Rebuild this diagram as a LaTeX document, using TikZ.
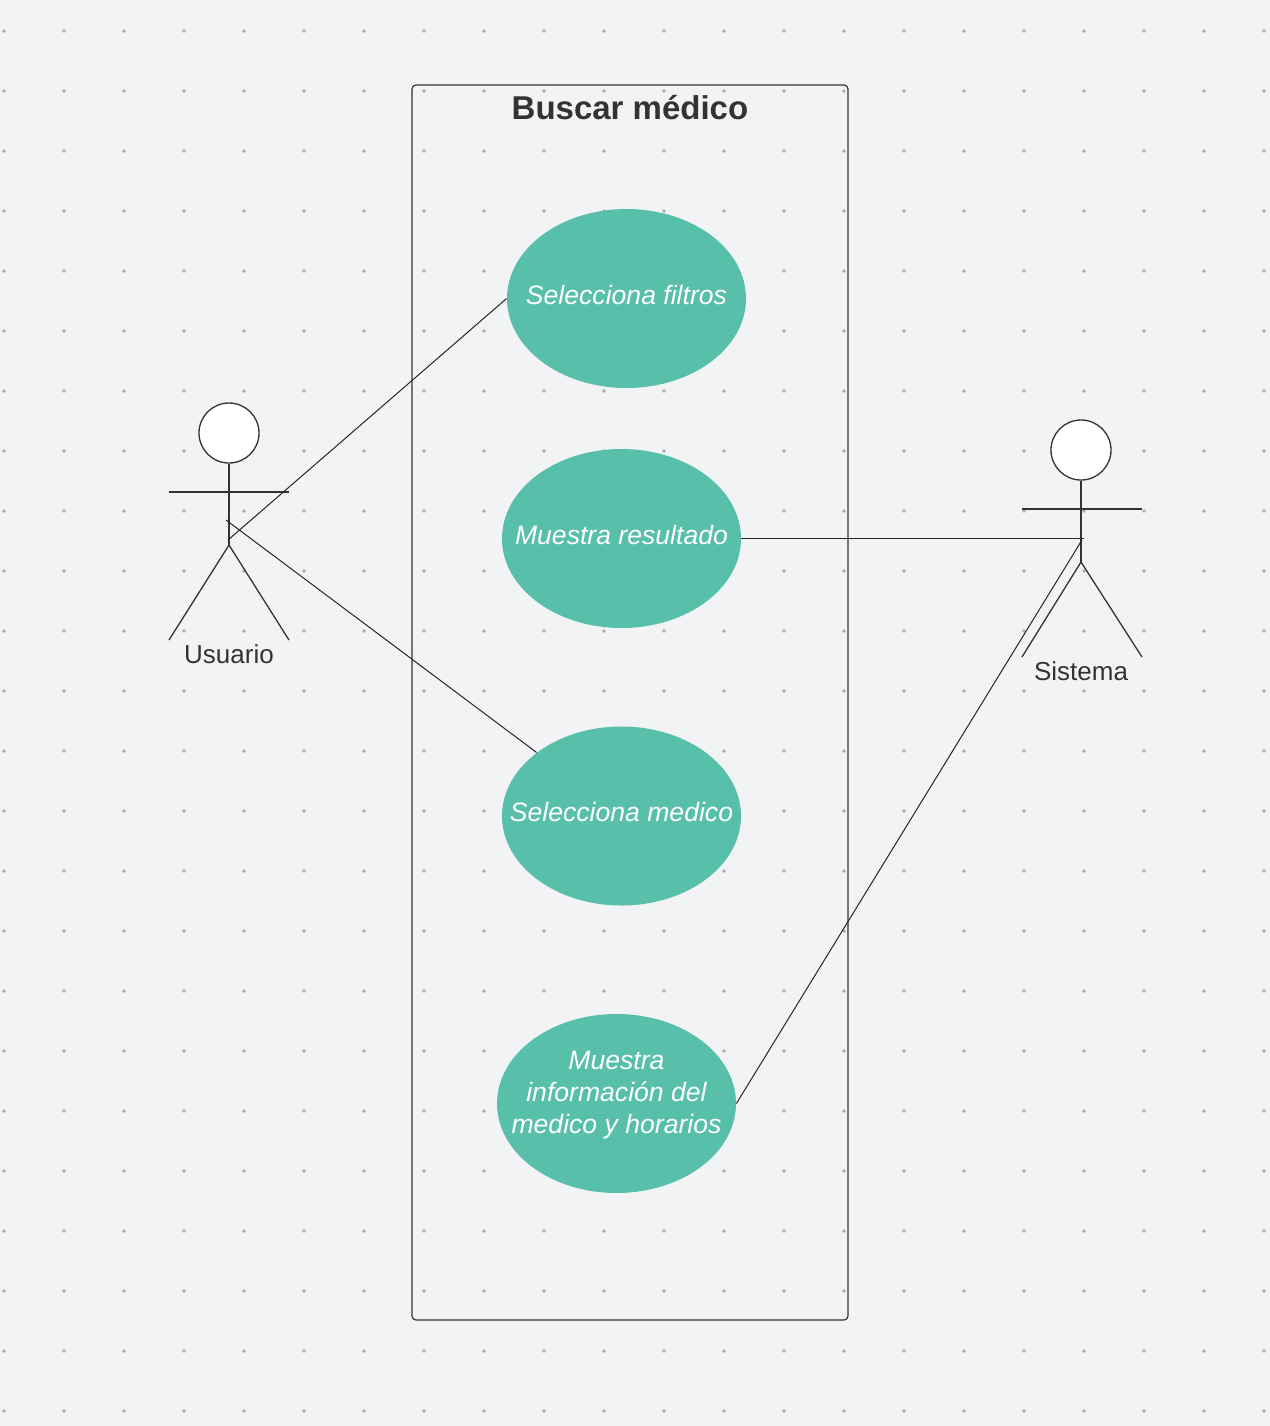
\documentclass[tikz,border=0pt]{standalone}
\usepackage{fontspec}
\setmainfont{Liberation Sans}
\usetikzlibrary{shapes.geometric}
\definecolor{bg}{HTML}{F2F3F5}
\definecolor{dotc}{HTML}{A9AAAE}
\definecolor{ucfill}{HTML}{57BFAA}
\definecolor{ink}{HTML}{333333}
\begin{document}
\begin{tikzpicture}[x=0.5pt,y=-0.5pt,
  usecase/.style={ellipse, fill=ucfill, draw=none, minimum width=119.5pt, minimum height=89.5pt, inner sep=0pt},
  uctext/.style={text=white, font=\fontsize{13.3}{16}\selectfont\itshape, align=center, inner sep=0pt},
  actorline/.style={draw=ink, line width=0.65pt},
  actorhead/.style={circle, draw=ink, fill=white, line width=0.65pt, minimum size=30pt, inner sep=0pt},
  actorlabel/.style={text=ink, font=\fontsize{13}{16}\selectfont, inner sep=0pt},
  assoc/.style={draw=black!85, line width=0.5pt},
  frame/.style={draw=ink, line width=0.6pt, rounded corners=2pt, minimum width=218pt, minimum height=617.5pt, inner sep=0pt}]
\fill[bg] (0,0) rectangle (1270,1426);
\useasboundingbox (0,0) rectangle (1270,1426);
\foreach \i in {0,...,21} \foreach \j in {0,...,23} \fill[dotc] (4+60*\i,31+60*\j) circle (0.95pt);
% system boundary
\node[frame] (sys) at (630,702.5) {};
\node[text=ink, font=\fontsize{16.5}{20}\selectfont\bfseries, inner sep=0pt] (title) at (630,108) {Buscar médico};
% use cases
\node[usecase] (uc1) at (626.5,298.5) {};
\node[uctext, yshift=2pt] (t1) at (uc1) {Selecciona filtros};
\node[usecase] (uc2) at (621.5,538.5) {};
\node[uctext, yshift=2pt] (t2) at (uc2) {Muestra resultado};
\node[usecase] (uc3) at (621.5,816) {};
\node[uctext, yshift=2pt] (t3) at (uc3) {Selecciona medico};
\node[usecase] (uc4) at (616.5,1103.5) {};
\node[uctext, yshift=4pt] (t4) at (uc4) {Muestra\\información del\\medico y horarios};
% actor Usuario
\node[actorhead] (uhead) at (229,433) {};
\coordinate (uhip) at (229,545);
\draw[actorline] (uhead.south) -- (uhip);
\draw[actorline] (169,492) -- (289,492);
\draw[actorline] (uhip) -- (169,640);
\draw[actorline] (uhip) -- (289,640);
\node[actorlabel] (ulabel) at (229,654) {Usuario};
% actor Sistema
\node[actorhead] (shead) at (1081,450) {};
\coordinate (ship) at (1081,562);
\draw[actorline] (shead.south) -- (ship);
\draw[actorline] (1022,509) -- (1142,509);
\draw[actorline] (ship) -- (1022,657);
\draw[actorline] (ship) -- (1142,657);
\node[actorlabel] (slabel) at (1081,671) {Sistema};
% associations
\coordinate (u1) at (228,540);
\coordinate (u2) at (226,520);
\coordinate (s1) at (1084,538.5);
\coordinate (s2) at (1082,540);
\draw[assoc] (u1) -- (uc1.west);
\draw[assoc] (u2) -- (uc3);
\draw[assoc] (uc2.east) -- (s1);
\draw[assoc] (uc4.east) -- (s2);
\end{tikzpicture}
\end{document}
